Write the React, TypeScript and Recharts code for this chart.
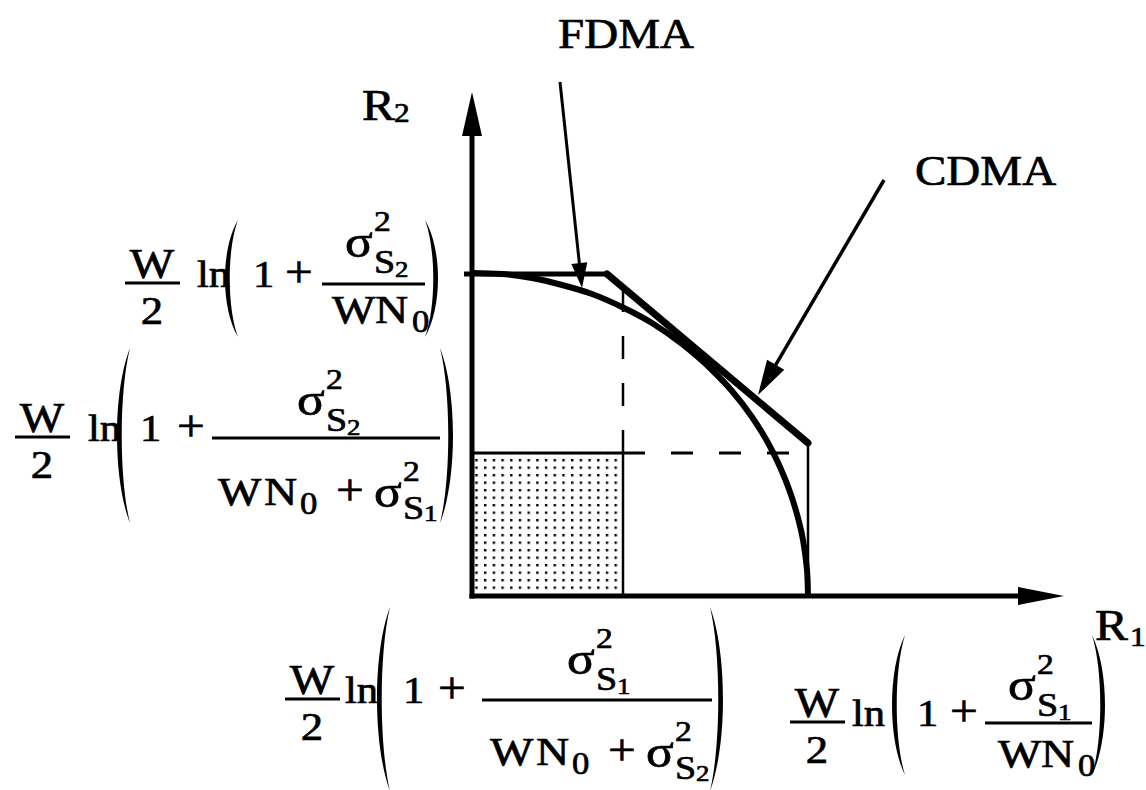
import React from 'react';
import {
  ComposedChart, Line, XAxis, YAxis, ReferenceLine, ReferenceDot, ReferenceArea,
} from 'recharts';

// rate plane, 1 unit = 100 px on both axes
const R1_MAX = 5.92;
const R2_MAX = 5.04;

// single-user capacities
const C1 = 3.36; // W/2 ln(1 + s1^2 / WN0)
const C2 = 3.22; // W/2 ln(1 + s2^2 / WN0)
// rates when the other user is treated as noise
const R1_INTERF = 1.51;
const R2_INTERF = 1.43;

// CDMA (successive decoding) pentagon corners
const CDMA_EDGE = [
  { r1: -0.08, r2: 3.22 },
  { r1: 1.35, r2: 3.22 },
  { r1: 3.36, r2: 1.53 },
  { r1: 3.36, r2: 0.06 },
];

// FDMA boundary
const FDMA_CURVE = [
  { r1: 0.0, r2: 3.23 },
  { r1: 0.3, r2: 3.22 },
  { r1: 0.6, r2: 3.18 },
  { r1: 0.9, r2: 3.11 },
  { r1: 1.2, r2: 3.02 },
  { r1: 1.5, r2: 2.89 },
  { r1: 1.8, r2: 2.73 },
  { r1: 2.1, r2: 2.52 },
  { r1: 2.4, r2: 2.26 },
  { r1: 2.6, r2: 2.05 },
  { r1: 2.8, r2: 1.79 },
  { r1: 2.95, r2: 1.55 },
  { r1: 3.08, r2: 1.29 },
  { r1: 3.18, r2: 1.04 },
  { r1: 3.26, r2: 0.78 },
  { r1: 3.31, r2: 0.56 },
  { r1: 3.34, r2: 0.35 },
  { r1: 3.355, r2: 0.18 },
  { r1: 3.36, r2: 0.0 },
];

// short tick between the CDMA edge and the FDMA curve
const GAP_TICK = [
  { r1: 1.51, r2: 3.09 },
  { r1: 1.51, r2: 2.89 },
];

// pointer arrows: tail, tip
const FDMA_ARROW = [{ r1: 0.88, r2: 5.14 }, { r1: 1.1, r2: 3.08 }];
const CDMA_ARROW = [{ r1: 4.12, r2: 4.16 }, { r1: 2.86, r2: 2.01 }];

const SERIF = '"Liberation Serif", "Times New Roman", serif';
const SX = 1.12;

function T({ x, y, size, children, anchor = 'start' }: any) {
  return (
    <text
      transform={`translate(${x} ${y}) scale(${SX} 1)`}
      fontSize={size}
      fontFamily={SERIF}
      textAnchor={anchor}
      fill="#000"
      stroke="#000"
      strokeWidth={0.7}
    >
      {children}
    </text>
  );
}

function Paren({ x, top, bottom, right = false }: any) {
  const w = 13;
  const h = bottom - top;
  const t = 4.5;
  if (!right) {
    const c = x - w / 3;
    const d = `M${x + w},${top} C${c},${top + h * 0.25} ${c},${bottom - h * 0.25} ${x + w},${bottom}`
      + ` C${c + t * 1.4},${bottom - h * 0.25} ${c + t * 1.4},${top + h * 0.25} ${x + w},${top} Z`;
    return <path d={d} fill="#000" />;
  }
  const c = x + w + w / 3;
  const d = `M${x},${top} C${c},${top + h * 0.25} ${c},${bottom - h * 0.25} ${x},${bottom}`
    + ` C${c - t * 1.4},${bottom - h * 0.25} ${c - t * 1.4},${top + h * 0.25} ${x},${top} Z`;
  return <path d={d} fill="#000" />;
}

function SigmaSq({ x, y, idx, sDrop = 16, iDrop = 20 }: any) {
  return (
    <g>
      <T x={x} y={y} size={46}>σ</T>
      <T x={x + 29} y={y - 26} size={30}>2</T>
      <T x={x + 29} y={y + sDrop} size={34}>S</T>
      <T x={x + 50} y={y + iDrop} size={24}>{idx}</T>
    </g>
  );
}

interface FormulaSpec {
  ln: number; lp: number; one: number; plus: number;
  bar: [number, number]; rp: number; paren: [number, number];
  numX: number; numY: number; numIdx: string;
  denX: number; denY: number; denIdx?: string;
}

function Formula({ L, A, s }: { L: number; A: number; s: FormulaSpec }) {
  const dx = s.denX + L;
  const dy = A + s.denY;
  return (
    <g>
      <T x={L + 27} y={A - 5} size={42} anchor="middle">W</T>
      <rect x={L} y={A - 1.5} width={55} height={3} fill="#000" />
      <T x={L + 27} y={A + 41} size={40} anchor="middle">2</T>
      <T x={L + s.ln} y={A + 4} size={38}>ln</T>
      <Paren x={L + s.lp} top={A + s.paren[0]} bottom={A + s.paren[1]} />
      <T x={L + s.one} y={A + 4} size={38}>1</T>
      <T x={L + s.plus} y={A + 4} size={44}>+</T>
      <rect x={L + s.bar[0]} y={A - 0.5} width={s.bar[1] - s.bar[0]} height={3} fill="#000" />
      <SigmaSq x={L + s.numX} y={A + s.numY} idx={s.numIdx} />
      <T x={dx} y={dy} size={41}>W</T>
      <T x={dx + (s.denIdx ? 46 : 43)} y={dy} size={41}>N</T>
      <T x={dx + (s.denIdx ? 82 : 80)} y={dy + 9} size={31}>0</T>
      {s.denIdx && <T x={dx + 118} y={dy} size={44}>+</T>}
      {s.denIdx && <SigmaSq x={dx + 156} y={dy + 2} idx={s.denIdx} sDrop={12} iDrop={14} />}
      <Paren x={L + s.rp} top={A + s.paren[0]} bottom={A + s.paren[1]} right />
    </g>
  );
}

const TOP_SPEC: FormulaSpec = {
  ln: 72, lp: 100, one: 128, plus: 160, bar: [197, 300], rp: 300, paren: [-63, 54],
  numX: 220, numY: -26, numIdx: '2', denX: 207, denY: 40,
};
const MID_SPEC: FormulaSpec = {
  ln: 73, lp: 102, one: 125, plus: 162, bar: [197, 425], rp: 425, paren: [-89, 86],
  numX: 282, numY: -22, numIdx: '2', denX: 203, denY: 68, denIdx: '1',
};
const BL_SPEC: FormulaSpec = {
  ln: 60, lp: 92, one: 118, plus: 153, bar: [197, 427], rp: 425, paren: [-92, 92],
  numX: 282, numY: -25, numIdx: '1', denX: 205, denY: 66, denIdx: '2',
};
const BR_SPEC: FormulaSpec = {
  ln: 62, lp: 102, one: 127, plus: 160, bar: [195, 302], rp: 302, paren: [-87, 53],
  numX: 218, numY: -22, numIdx: '1', denX: 208, denY: 45,
};

function Pointer({ x1, y1, x2, y2, head, half, width, label, lx, ly, anchor }: any) {
  const len = Math.hypot(x2 - x1, y2 - y1);
  const ux = (x2 - x1) / len;
  const uy = (y2 - y1) / len;
  const bx = x2 - ux * head;
  const by = y2 - uy * head;
  const pts = `${x2},${y2} ${bx - uy * half},${by + ux * half} ${bx + uy * half},${by - ux * half}`;
  return (
    <g>
      <line x1={x1} y1={y1} x2={bx + ux * 2} y2={by + uy * 2} stroke="#000" strokeWidth={width} />
      <polygon points={pts} fill="#000" />
      <T x={x1 + lx} y={y1 + ly} size={42} anchor={anchor}>{label}</T>
    </g>
  );
}

const seg = (a: { r1: number; r2: number }, b: { r1: number; r2: number }) => [
  { x: a.r1, y: a.r2 },
  { x: b.r1, y: b.r2 },
];

export default function App() {
  return (
    <div style={{ position: 'absolute', left: 0, top: 0, background: '#fff' }}>
      <ComposedChart
        width={1146}
        height={790}
        data={FDMA_CURVE}
        margin={{ top: 92, right: 82, bottom: 194, left: 472 }}
      >
        <XAxis dataKey="r1" type="number" domain={[0, R1_MAX]} allowDataOverflow hide />
        <YAxis type="number" domain={[0, R2_MAX]} allowDataOverflow hide />

        {/* achievable rates with single-user decoding */}
        <ReferenceArea
          x1={0}
          x2={R1_INTERF}
          y1={0}
          y2={R2_INTERF}
          ifOverflow="visible"
          shape={(p: any) => (
            <g>
              <defs>
                <pattern id="dots" patternUnits="userSpaceOnUse" x={p.x + 12} y={p.y + 6} width={8.7} height={7.5}>
                  <rect x={0} y={0} width={2.4} height={2.4} fill="#000" />
                </pattern>
              </defs>
              <rect x={p.x} y={p.y} width={p.width} height={p.height} fill="url(#dots)" />
            </g>
          )}
        />

        {/* guide lines */}
        <ReferenceLine segment={[{ x: 0, y: R2_INTERF }, { x: R1_INTERF, y: R2_INTERF }]} stroke="#000" strokeWidth={3} ifOverflow="visible" />
        <ReferenceLine segment={[{ x: R1_INTERF, y: R2_INTERF }, { x: C1 - 0.06, y: R2_INTERF }]} stroke="#000" strokeWidth={3} strokeDasharray="22 26" ifOverflow="visible" />
        <ReferenceLine segment={[{ x: R1_INTERF, y: 0 }, { x: R1_INTERF, y: R2_INTERF }]} stroke="#000" strokeWidth={2.5} ifOverflow="visible" />
        <ReferenceLine segment={[{ x: R1_INTERF, y: R2_INTERF }, { x: R1_INTERF, y: GAP_TICK[1].r2 }]} stroke="#000" strokeWidth={2.5} strokeDasharray="23 24" ifOverflow="visible" />
        <ReferenceLine segment={seg(GAP_TICK[0], GAP_TICK[1])} stroke="#000" strokeWidth={2.5} ifOverflow="visible" />

        {/* CDMA region */}
        <ReferenceLine segment={seg(CDMA_EDGE[0], CDMA_EDGE[1])} stroke="#000" strokeWidth={5} ifOverflow="visible" />
        <ReferenceLine segment={seg(CDMA_EDGE[1], CDMA_EDGE[2])} stroke="#000" strokeWidth={7} strokeLinecap="round" ifOverflow="visible" />
        <ReferenceLine segment={seg(CDMA_EDGE[2], CDMA_EDGE[3])} stroke="#000" strokeWidth={2.5} ifOverflow="visible" />

        {/* axes */}
        <ReferenceLine segment={[{ x: 0, y: -0.025 }, { x: 0, y: R2_MAX - 0.4 }]} stroke="#000" strokeWidth={5} ifOverflow="visible" />
        <ReferenceLine segment={[{ x: -0.025, y: 0 }, { x: R1_MAX - 0.4, y: 0 }]} stroke="#000" strokeWidth={5} ifOverflow="visible" />
        <ReferenceDot
          x={0}
          y={R2_MAX}
          ifOverflow="visible"
          shape={(p: any) => (
            <g>
              <polygon points={`${p.cx},${p.cy} ${p.cx - 10},${p.cy + 44} ${p.cx + 10},${p.cy + 44}`} fill="#000" />
              <T x={p.cx - 110} y={p.cy + 28} size={44}>R</T>
              <T x={p.cx - 78} y={p.cy + 30} size={28}>2</T>
            </g>
          )}
        />
        <ReferenceDot
          x={R1_MAX}
          y={0}
          ifOverflow="visible"
          shape={(p: any) => (
            <g>
              <polygon points={`${p.cx},${p.cy} ${p.cx - 46},${p.cy - 9} ${p.cx - 46},${p.cy + 9}`} fill="#000" />
              <T x={p.cx + 31} y={p.cy + 44} size={44}>R</T>
              <T x={p.cx + 66} y={p.cy + 50} size={28}>1</T>
            </g>
          )}
        />

        {/* FDMA boundary */}
        <Line
          type="monotone"
          dataKey="r2"
          stroke="#000"
          strokeWidth={6}
          dot={false}
          activeDot={false}
          isAnimationActive={false}
        />

        {/* pointers */}
        <ReferenceLine
          segment={seg(FDMA_ARROW[0], FDMA_ARROW[1])}
          ifOverflow="visible"
          shape={(p: any) => (
            <Pointer {...p} head={25} half={8} width={3} label="FDMA" lx={66} ly={-34} anchor="middle" />
          )}
        />
        <ReferenceLine
          segment={seg(CDMA_ARROW[0], CDMA_ARROW[1])}
          ifOverflow="visible"
          shape={(p: any) => (
            <Pointer {...p} head={35} half={10} width={3.5} label="CDMA" lx={31} ly={5} anchor="start" />
          )}
        />

        {/* rate labels */}
        <ReferenceDot x={0} y={C2} ifOverflow="visible" shape={(p: any) => <Formula L={p.cx - 347} A={p.cy + 9} s={TOP_SPEC} />} />
        <ReferenceDot x={0} y={R2_INTERF} ifOverflow="visible" shape={(p: any) => <Formula L={p.cx - 457} A={p.cy - 16} s={MID_SPEC} />} />
        <ReferenceDot x={R1_INTERF} y={0} ifOverflow="visible" shape={(p: any) => <Formula L={p.cx - 338} A={p.cy + 103} s={BL_SPEC} />} />
        <ReferenceDot x={C1} y={0} ifOverflow="visible" shape={(p: any) => <Formula L={p.cx - 18} A={p.cy + 126} s={BR_SPEC} />} />
      </ComposedChart>
    </div>
  );
}
